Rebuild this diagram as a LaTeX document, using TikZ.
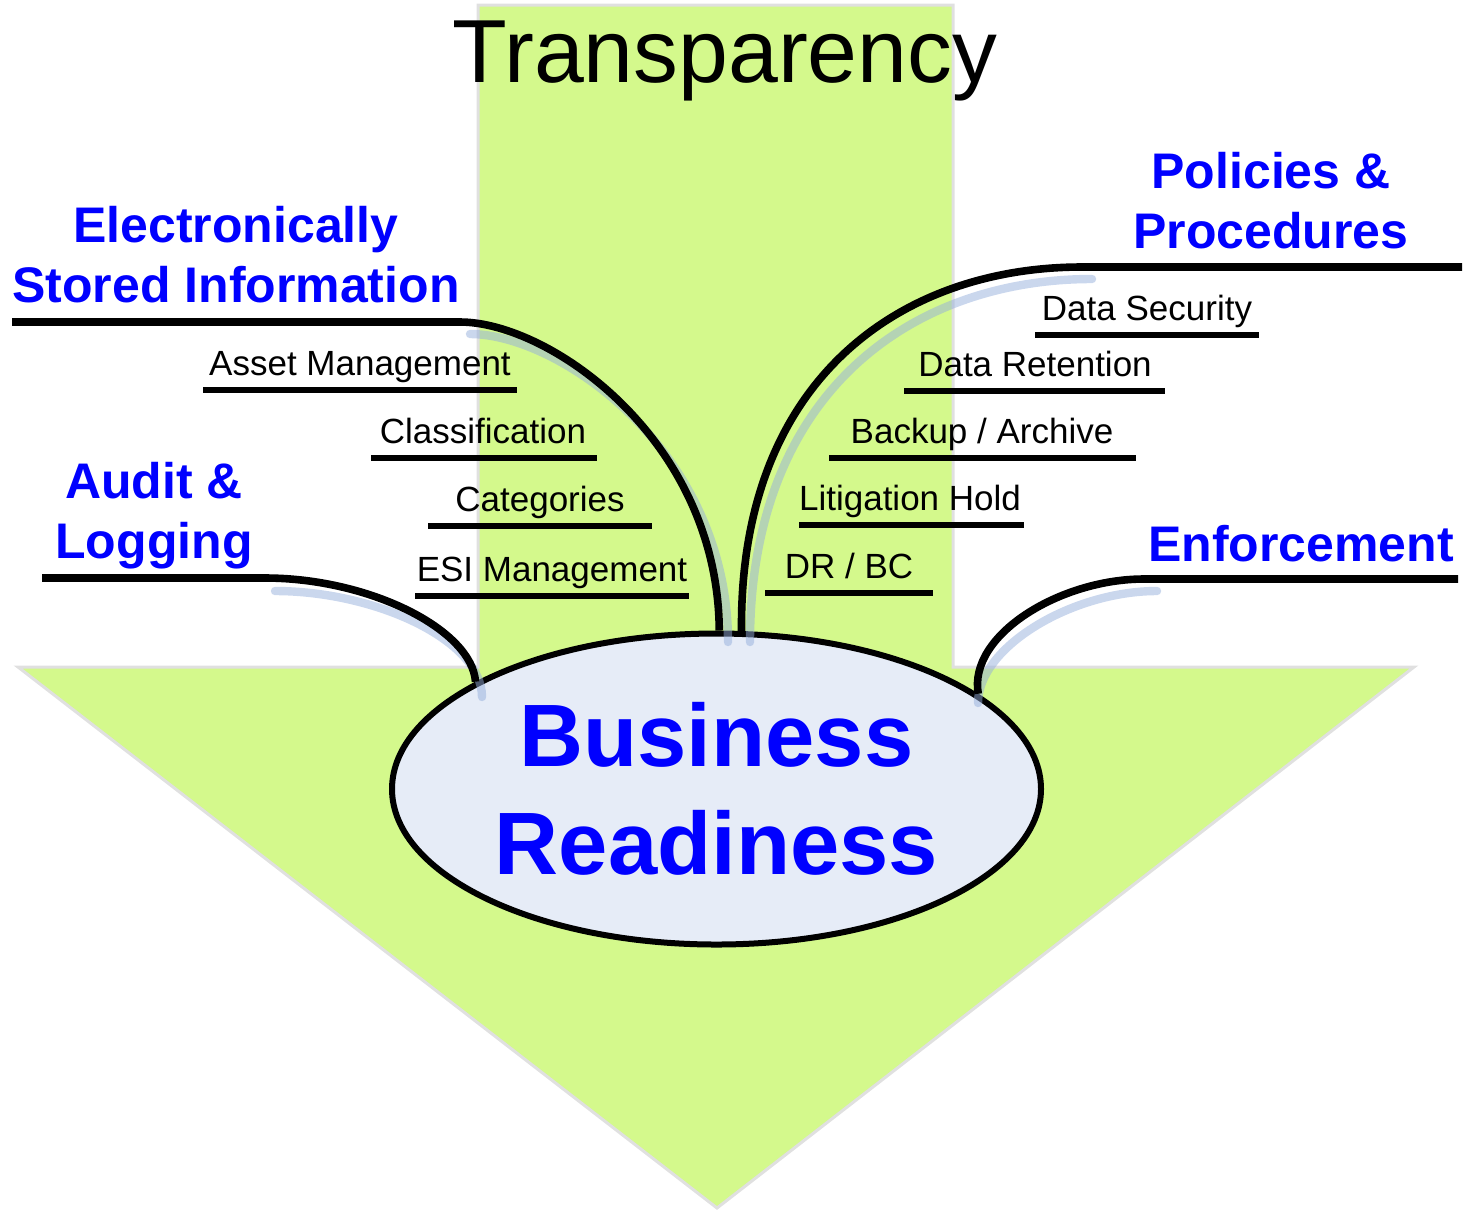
\documentclass[tikz,border=0pt]{standalone}
\usepackage{fontspec}
\setmainfont{Liberation Sans}
\usetikzlibrary{shapes.geometric}
\definecolor{arrowgreen}{RGB}{212,249,140}
\definecolor{arrowedge}{RGB}{224,224,224}
\definecolor{ovalfill}{RGB}{230,236,247}
\definecolor{headblue}{RGB}{0,0,255}
\definecolor{shadowblue}{RGB}{150,175,220}
\begin{document}
\begin{tikzpicture}[x=0.5pt,y=-0.5pt,
  conn/.style={line width=3.8pt},
  subline/.style={line width=3.4pt},
  shade/.style={line width=4.2pt, draw=shadowblue, opacity=0.5, line cap=round},
  sublabel/.style={font=\fontsize{17.5}{21}\selectfont, anchor=base, inner sep=0pt},
  heading/.style={font=\fontsize{25}{30}\selectfont\bfseries, text=headblue, align=center, inner sep=0pt, anchor=base},
]
\useasboundingbox (0,0) rectangle (1476,1212);
% big arrow
\filldraw[fill=arrowgreen, draw=arrowedge, line width=1.5pt]
  (478,5) -- (953,5) -- (953,667) -- (1414,667) -- (717,1208) -- (18,667) -- (478,667) -- cycle;
\node[font=\fontsize{44.8}{50}\selectfont, anchor=base, inner sep=0pt] (tr) at (725,82) {Transparency};
% central ellipse
\node[ellipse, draw, line width=3pt, fill=ovalfill, minimum width=324.5pt, minimum height=155.5pt,
      inner sep=0pt, align=center, text=headblue, font=\fontsize{44.3}{54}\selectfont\bfseries] (br) at (716.5,789) {Business\\Readiness};
% headings (base = baseline of last line)
\node[heading] (esi) at (236,302) {Electronically\\Stored Information};
\node[heading] (pp) at (1271,248) {Policies \&\\Procedures};
\node[heading] (aud) at (154,558) {Audit \&\\Logging};
\node[heading] (enf) at (1301,561) {Enforcement};
% soft shadows of connectors
\draw[shade] (470,334) .. controls (560,334) and (728,452) .. (728,642);
\draw[shade] (1092,279) .. controls (912,279) and (750,392) .. (750,642);
\draw[shade] (275,591) .. controls (375,591) and (482,640) .. (482,697);
\draw[shade] (1157,591) .. controls (1072,591) and (978,647) .. (978,703);
% connector coordinates
\coordinate (esiA) at (12,322);   \coordinate (esiB) at (460,322);
\coordinate (ppA) at (1462,267);  \coordinate (ppB) at (1082,267);
\coordinate (audA) at (42,578);   \coordinate (audB) at (265,578);
\coordinate (enfA) at (1458,579); \coordinate (enfB) at (1144,579);
% main connectors
\draw[conn] (esiA) -- (esiB) .. controls (550,322) and (718,440) .. (br.89.5);
\draw[conn] (ppA) -- (ppB) .. controls (900,267) and (739,380) .. (br.81.8);
\draw[conn] (audA) -- (audB) .. controls (370,578) and (472,630) .. (br.156.7);
\draw[conn] (enfA) -- (enfB) .. controls (1060,579) and (968,635) .. (br.20.9);
% sub items
\node[sublabel] (am) at (360,375) {Asset Management};
\node[sublabel] (cl) at (483,443) {Classification};
\node[sublabel] (ca) at (540,511) {Categories};
\node[sublabel] (em) at (552,581) {ESI Management};
\node[sublabel] (ds) at (1147,320) {Data Security};
\node[sublabel] (dr) at (1035,376) {Data Retention};
\node[sublabel] (ba) at (982,443) {Backup / Archive};
\node[sublabel] (lh) at (910,510) {Litigation Hold};
\node[sublabel] (db) at (849,578) {DR / BC};
\draw[subline] (203,390) -- (517,390);
\draw[subline] (371,458) -- (597,458);
\draw[subline] (428,526) -- (652,526);
\draw[subline] (415,596) -- (689,596);
\draw[subline] (1035,335) -- (1259,335);
\draw[subline] (904,391) -- (1165,391);
\draw[subline] (829,458) -- (1136,458);
\draw[subline] (799,525) -- (1024,525);
\draw[subline] (765,593) -- (933,593);
\end{tikzpicture}
\end{document}
